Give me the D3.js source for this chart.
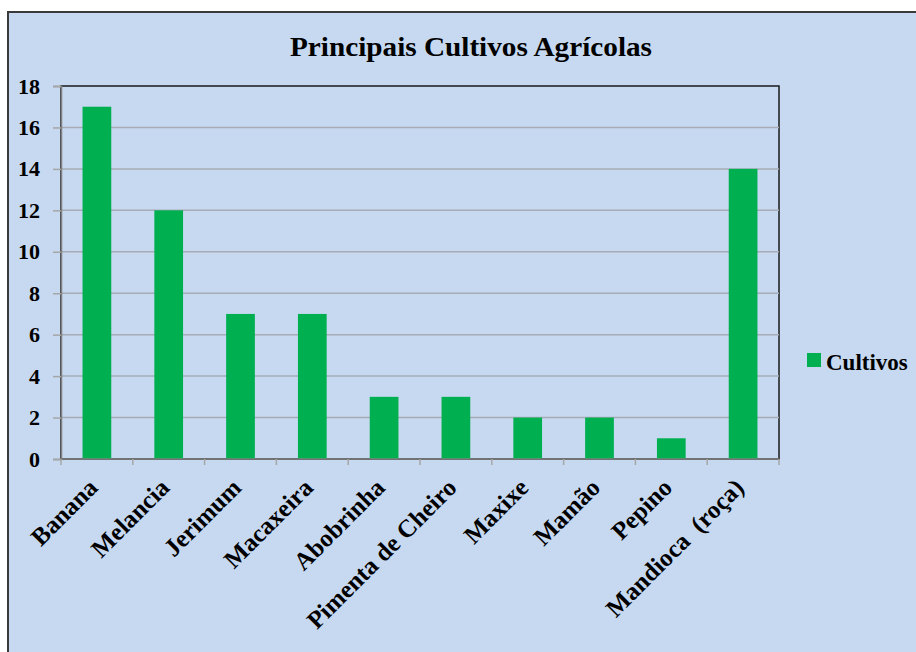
<!DOCTYPE html>
<meta charset="utf-8">
<script src="https://d3js.org/d3.v7.min.js"></script>

<body style="margin:0;background:#fff"></body>

<script>
  // chart data
  var categories = ["Banana", "Melancia", "Jerimum", "Macaxeira", "Abobrinha",
    "Pimenta de Cheiro", "Maxixe", "Mamão", "Pepino", "Mandioca  (roça)"];
  var values = [17, 12, 7, 7, 3, 3, 2, 2, 1, 14];
  var yTicks = [0, 2, 4, 6, 8, 10, 12, 14, 16, 18];
  var seriesName = "Cultivos";
  var title = "Principais Cultivos Agrícolas";

  var W = 916, H = 652;
  var font = "Liberation Serif, Times New Roman, serif";

  var svg = d3.select("body")
    .append("svg")
    .attr("width", W)
    .attr("height", H)
    .style("display", "block");

  // chart area (right and bottom edges run off the picture)
  svg.append("rect")
    .attr("x", 8).attr("y", 12)
    .attr("width", W + 20).attr("height", H + 20)
    .style("fill", "#c6d9f1")
    .style("stroke", "#3a3a3a")
    .style("stroke-width", 2);

  var plot = {left: 61, top: 86, right: 779, bottom: 459};

  var x = d3.scaleBand()
    .domain(categories)
    .range([plot.left, plot.right])
    .paddingInner(0.6)
    .paddingOuter(0.3);

  var y = d3.scaleLinear()
    .domain([0, 18])
    .range([plot.bottom, plot.top]);

  // plot border
  svg.append("rect")
    .attr("x", plot.left).attr("y", plot.top)
    .attr("width", plot.right - plot.left)
    .attr("height", plot.bottom - plot.top)
    .style("fill", "none")
    .style("stroke", "#1a1a1a")
    .style("stroke-width", 1.5);

  // gridlines
  svg.append("g")
    .selectAll("line")
    .data(yTicks.slice(1, -1))
    .enter()
    .append("line")
    .attr("x1", plot.left).attr("x2", plot.right)
    .attr("y1", function(d){ return y(d); })
    .attr("y2", function(d){ return y(d); })
    .style("stroke", "#a6abb5")
    .style("stroke-width", 1.5);

  // bars
  svg.append("g")
    .selectAll("rect")
    .data(values)
    .enter()
    .append("rect")
    .attr("x", function(d, i){ return x(categories[i]); })
    .attr("y", function(d){ return y(d); })
    .attr("width", x.bandwidth())
    .attr("height", function(d){ return y(0) - y(d); })
    .style("fill", "#00b050");

  // y axis
  var yAxis = svg.append("g")
    .attr("transform", "translate(" + plot.left + ",0)")
    .call(d3.axisLeft(y).tickValues(yTicks).tickSize(8).tickPadding(13));
  yAxis.attr("font-family", font).attr("font-size", 22);
  yAxis.select(".domain").style("stroke", "#808080").style("stroke-width", 1.5);
  yAxis.selectAll(".tick line").style("stroke", "#a6a6a6").style("stroke-width", 1.5);
  yAxis.selectAll("text")
    .attr("font-family", font)
    .attr("font-weight", "bold")
    .attr("font-size", 22)
    .attr("fill", "#000");

  // x axis: ticks at category boundaries
  var bounds = d3.range(categories.length + 1).map(function(i){
    return plot.left + i * x.step();
  });
  svg.append("line")
    .attr("x1", plot.left).attr("x2", plot.right)
    .attr("y1", plot.bottom).attr("y2", plot.bottom)
    .style("stroke", "#808080")
    .style("stroke-width", 1.5);
  svg.append("g")
    .selectAll("line")
    .data(bounds)
    .enter()
    .append("line")
    .attr("x1", function(d){ return d; })
    .attr("x2", function(d){ return d; })
    .attr("y1", plot.bottom)
    .attr("y2", plot.bottom + 6)
    .style("stroke", "#a6a6a6")
    .style("stroke-width", 1.5);

  svg.append("g")
    .selectAll("text")
    .data(categories)
    .enter()
    .append("text")
    .attr("transform", function(d){
      return "translate(" + (x(d) + x.bandwidth() / 2 - 4) + "," + (plot.bottom + 24) + ") rotate(-45)";
    })
    .attr("text-anchor", "end")
    .attr("dy", "0.35em")
    .attr("font-family", font)
    .attr("font-weight", "bold")
    .attr("font-size", 25)
    .style("white-space", "pre")
    .text(function(d){ return d; });

  // title
  svg.append("text")
    .attr("x", 471)
    .attr("y", 56)
    .attr("text-anchor", "middle")
    .attr("textLength", 362)
    .attr("lengthAdjust", "spacingAndGlyphs")
    .attr("font-family", font)
    .attr("font-weight", "bold")
    .attr("font-size", 28)
    .text(title);

  // legend
  svg.append("rect")
    .attr("x", 807).attr("y", 353)
    .attr("width", 14).attr("height", 14)
    .style("fill", "#00b050");
  svg.append("text")
    .attr("x", 826).attr("y", 370)
    .attr("font-family", font)
    .attr("font-weight", "bold")
    .attr("font-size", 23)
    .text(seriesName);
</script>
